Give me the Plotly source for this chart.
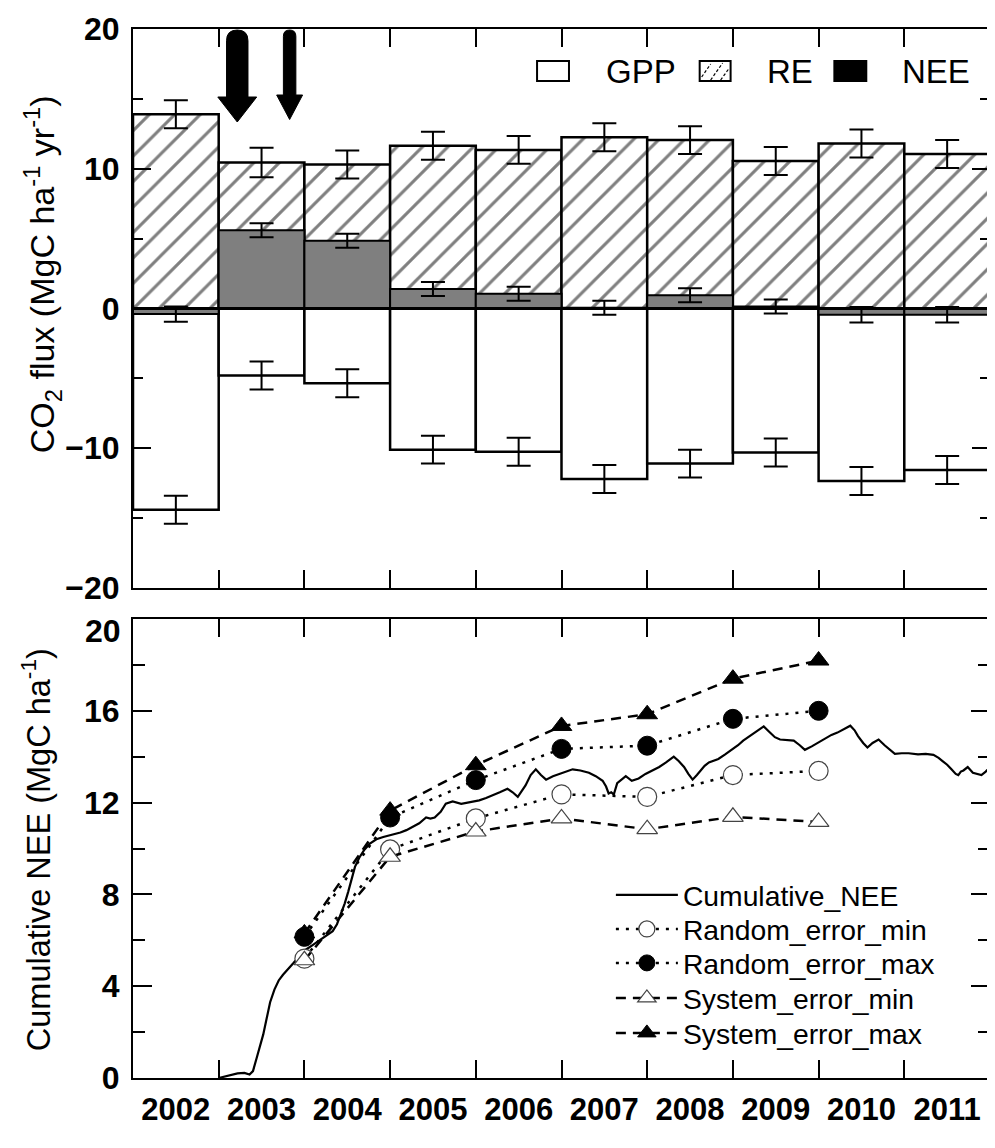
import plotly.graph_objects as go

# ---------------- data ----------------
years = ["2002", "2003", "2004", "2005", "2006", "2007", "2008", "2009", "2010", "2011"]
bar_pos = [0.5, 1.5, 2.5, 3.5, 4.5, 5.5, 6.5, 7.5, 8.5, 9.5]

GPP = [-14.4, -4.8, -5.35, -10.1, -10.25, -12.2, -11.1, -10.3, -12.35, -11.55]
GPP_err = [1.0, 1.0, 1.0, 1.0, 1.0, 1.0, 1.0, 1.0, 1.0, 1.0]
RE = [13.9, 10.45, 10.3, 11.65, 11.35, 12.25, 12.05, 10.55, 11.8, 11.05]
RE_err = [1.0, 1.05, 1.0, 1.0, 1.0, 1.0, 1.0, 1.0, 1.0, 1.0]
NEE = [-0.4, 5.6, 4.85, 1.4, 1.05, 0.05, 0.95, 0.15, -0.45, -0.45]
NEE_err = [0.55, 0.5, 0.5, 0.5, 0.5, 0.5, 0.5, 0.5, 0.55, 0.55]

cum_x = [1.00, 1.10, 1.22, 1.30, 1.36, 1.40, 1.44, 1.48, 1.52, 1.56, 1.60, 1.65, 1.70, 1.75,
         1.80, 1.87, 1.95, 2.02, 2.10, 2.18, 2.26, 2.33, 2.38, 2.42, 2.47, 2.51, 2.55, 2.59,
         2.64, 2.70, 2.76, 2.84, 2.92, 3.03, 3.12, 3.19, 3.27, 3.34, 3.42, 3.47, 3.52, 3.59,
         3.65, 3.73, 3.83, 3.92, 4.04, 4.12, 4.19, 4.28, 4.37, 4.43, 4.49, 4.54, 4.58, 4.64,
         4.70, 4.76, 4.82, 4.90, 4.97, 5.05, 5.13, 5.22, 5.32, 5.40, 5.48, 5.52, 5.55, 5.58,
         5.61, 5.65, 5.70, 5.75, 5.82, 5.90, 5.98, 6.06, 6.14, 6.22, 6.31, 6.37, 6.43, 6.48,
         6.53, 6.58, 6.62, 6.67, 6.72, 6.83, 6.91, 6.99, 7.06, 7.12, 7.18, 7.24, 7.30, 7.36,
         7.42, 7.49, 7.55, 7.61, 7.71, 7.78, 7.84, 7.92, 8.00, 8.08, 8.15, 8.22, 8.30, 8.37,
         8.42, 8.46, 8.52, 8.57, 8.63, 8.70, 8.77, 8.83, 8.89, 8.97, 9.05, 9.16, 9.25, 9.34,
         9.40, 9.45, 9.50, 9.55, 9.60, 9.63, 9.66, 9.69, 9.74, 9.80, 9.85, 9.90, 9.95, 10.0]
cum_nee = [0.0, 0.08, 0.2, 0.22, 0.15, 0.3, 0.8, 1.3, 1.9, 2.6, 3.3, 3.85, 4.25, 4.5,
           4.7, 5.0, 5.35, 5.6, 5.8, 6.0, 6.2, 6.4, 6.7, 7.1, 7.6, 8.1, 8.7, 9.2,
           9.6, 9.95, 10.2, 10.4, 10.5, 10.6, 10.7, 10.8, 10.95, 11.1, 11.35, 11.3, 11.35, 11.6,
           11.95, 12.05, 11.95, 12.0, 12.1, 12.2, 12.3, 12.45, 12.6, 12.45, 12.25, 12.5, 12.75, 13.2,
           13.45, 13.2, 13.0, 13.15, 13.25, 13.35, 13.45, 13.4, 13.3, 13.15, 12.95, 12.7, 12.4, 12.45,
           12.35, 12.85, 13.0, 13.15, 12.95, 13.05, 13.25, 13.4, 13.55, 13.75, 14.0, 13.8, 13.55, 13.25,
           13.0, 13.2, 13.4, 13.6, 13.75, 13.9, 14.1, 14.3, 14.5, 14.7, 14.85, 15.0, 15.15, 15.32,
           15.1, 14.85, 14.75, 14.72, 14.7, 14.5, 14.3, 14.45, 14.62, 14.8, 14.95, 15.05, 15.2, 15.35,
           15.15, 14.9, 14.6, 14.4, 14.6, 14.75, 14.5, 14.3, 14.12, 14.15, 14.15, 14.1, 14.12, 14.08,
           13.95, 13.8, 13.65, 13.45, 13.25, 13.2, 13.35, 13.4, 13.55, 13.3, 13.25, 13.2, 13.35, 13.55]

err_x = [2, 3, 4, 5, 6, 7, 8]
rand_min = [5.2, 9.96, 11.31, 12.36, 12.25, 13.2, 13.38]
rand_max = [6.15, 11.35, 12.98, 14.34, 14.48, 15.65, 16.0]
sys_min = [5.13, 9.64, 10.74, 11.31, 10.84, 11.38, 11.16]
sys_max = [6.3, 11.65, 13.63, 15.34, 15.85, 17.40, 18.19]

top_yticks = [-20, -10, 0, 10, 20]
bot_yticks = [0, 4, 8, 12, 16, 20]
bot_ytext = ["0", "4", "8", "12", "16", ""]   # "20" drawn separately, just under the frame

# ---------------- layout geometry (page pixels; page body has an 8px margin) ----------------
OFF = 8
PL, PR, PT, PB = 133, 992, 29, 1078          # plot area on the page
FW, FH = 987, 1140                           # figure size
ML, MT = PL - OFF, PT - OFF
MR, MB = FW - (PR - OFF), FH - (PB - OFF)
PW, PH = PR - PL, PB - PT
TOP_DOM = [(PB - 588) / PH, 1.0]
BOT_DOM = [0.0, (PB - 619) / PH]

FONT = "Arial, 'Liberation Sans', sans-serif"


def px(xp):
    return (xp - PL) / PW


def py(yp):
    return (PB - yp) / PH


fig = go.Figure()

# ---------------- top panel bars ----------------
err_style = dict(type="data", visible=True, color="black", thickness=2, width=12)

fig.add_trace(go.Bar(
    x=bar_pos, y=GPP, width=1.0, name="GPP", showlegend=False,
    marker=dict(color="white", line=dict(color="black", width=2.5)),
    error_y=dict(array=GPP_err, **err_style), xaxis="x", yaxis="y"))
fig.add_trace(go.Bar(
    x=bar_pos, y=RE, width=1.0, name="RE", showlegend=False,
    marker=dict(color="white", line=dict(color="black", width=2.5),
                pattern=dict(shape="/", fgcolor="black", bgcolor="white", size=18, solidity=0.17)),
    error_y=dict(array=RE_err, **err_style), xaxis="x", yaxis="y"))
fig.add_trace(go.Bar(
    x=bar_pos, y=NEE, width=1.0, name="NEE", showlegend=False,
    marker=dict(color="#7f7f7f", line=dict(color="black", width=2)),
    error_y=dict(array=NEE_err, **err_style), xaxis="x", yaxis="y"))

# ---------------- bottom panel lines ----------------
fig.add_trace(go.Scatter(
    x=cum_x, y=cum_nee, mode="lines", name="Cumulative_NEE", legend="legend",
    line=dict(color="black", width=2.2), xaxis="x2", yaxis="y2"))
fig.add_trace(go.Scatter(
    x=err_x, y=rand_min, mode="lines+markers", name="Random_error_min", legend="legend2",
    line=dict(color="black", width=2.5, dash="3px,7px"),
    marker=dict(symbol="circle", size=19, color="white", line=dict(color="#444", width=1.2)),
    xaxis="x2", yaxis="y2"))
fig.add_trace(go.Scatter(
    x=err_x, y=rand_max, mode="lines+markers", name="Random_error_max", legend="legend3",
    line=dict(color="black", width=2.5, dash="3px,7px"),
    marker=dict(symbol="circle", size=19, color="black", line=dict(color="black", width=1)),
    xaxis="x2", yaxis="y2"))
fig.add_trace(go.Scatter(
    x=err_x, y=sys_min, mode="lines+markers", name="System_error_min", legend="legend4",
    line=dict(color="black", width=2.5, dash="10px,7px"),
    marker=dict(symbol="triangle-up", size=18, color="white", line=dict(color="#444", width=1.2)),
    xaxis="x2", yaxis="y2"))
fig.add_trace(go.Scatter(
    x=err_x, y=sys_max, mode="lines+markers", name="System_error_max", legend="legend5",
    line=dict(color="black", width=2.5, dash="10px,7px"),
    marker=dict(symbol="triangle-up", size=18, color="black", line=dict(color="black", width=1)),
    xaxis="x2", yaxis="y2"))

# ---------------- axes ----------------
xtickfont = dict(family=FONT, size=31, color="black", weight="bold")
ytickfont = dict(family=FONT, size=32, color="black", weight="bold")
bound_ticks = list(range(0, 11))

common_x = dict(range=[0, 10], showline=True, linecolor="black", linewidth=2, mirror="allticks",
                showgrid=False, zeroline=False, ticks="inside", ticklen=0,
                tickvals=bar_pos, ticktext=years, tickfont=xtickfont,
                minor=dict(tickmode="array", tickvals=bound_ticks, ticks="inside",
                           ticklen=18, tickwidth=2, tickcolor="black", showgrid=False))

legend_rows = [895, 929, 963, 998, 1033]
legend_common = dict(xanchor="left", yanchor="middle", bgcolor="rgba(0,0,0,0)",
                     font=dict(family=FONT, size=28.3, color="black"), itemwidth=62,
                     borderwidth=0)
LEG_X = px(612)

fig.update_layout(
    xaxis=dict(domain=[0, 1], anchor="y", showticklabels=False, **common_x),
    xaxis2=dict(domain=[0, 1], anchor="y2", showticklabels=True, ticklabelstandoff=3, **common_x),
    yaxis=dict(domain=TOP_DOM, anchor="x", range=[-20, 20], showline=True, linecolor="black",
               linewidth=2, mirror="allticks", showgrid=False, zeroline=False,
               tickvals=top_yticks, ticks="inside", ticklen=18, tickwidth=2,
               tickcolor="black", tickfont=ytickfont, ticklabelstandoff=5,
               minor=dict(tickmode="array", tickvals=[-15, -5, 5, 15], ticks="inside",
                          ticklen=10, tickwidth=2, tickcolor="black", showgrid=False)),
    yaxis2=dict(domain=BOT_DOM, anchor="x2", range=[0, 20], showline=True, linecolor="black",
                linewidth=2, mirror="allticks", showgrid=False, zeroline=False,
                tickvals=bot_yticks, ticktext=bot_ytext, ticks="inside", ticklen=19, tickwidth=2,
                tickcolor="black", tickfont=ytickfont, ticklabelstandoff=5,
                minor=dict(tickmode="array", tickvals=[2, 6, 10, 14, 18], ticks="inside",
                           ticklen=12, tickwidth=2, tickcolor="black", showgrid=False)),
    barmode="overlay",
    width=FW, height=FH, autosize=False,
    margin=dict(l=ML, r=MR, t=MT, b=MB, pad=0),
    paper_bgcolor="white", plot_bgcolor="white",
    font=dict(family=FONT, color="black"),
    legend=dict(x=LEG_X, y=py(legend_rows[0]), **legend_common),
    legend2=dict(x=LEG_X, y=py(legend_rows[1]), **legend_common),
    legend3=dict(x=LEG_X, y=py(legend_rows[2]), **legend_common),
    legend4=dict(x=LEG_X, y=py(legend_rows[3]), **legend_common),
    legend5=dict(x=LEG_X, y=py(legend_rows[4]), **legend_common),
)

# ---------------- shapes: zero line, arrows, top legend ----------------
shapes = []
shapes.append(dict(type="line", xref="paper", yref="y", x0=0, x1=1, y0=0, y1=0,
                   line=dict(color="black", width=3), layer="above"))


def arrow_path(cx, shaft_w, head_w, top, head_y, tip):
    l, r = px(cx - shaft_w / 2), px(cx + shaft_w / 2)
    hl, hr = px(cx - head_w / 2), px(cx + head_w / 2)
    c = px(cx)
    return (f"M {l},{py(top + shaft_w/2)} Q {l},{py(top)} {c},{py(top)} Q {r},{py(top)} {r},{py(top + shaft_w/2)} "
            f"L {r},{py(head_y)} L {hr},{py(head_y)} L {c},{py(tip)} L {hl},{py(head_y)} "
            f"L {l},{py(head_y)} Z")


shapes.append(dict(type="path", xref="paper", yref="paper",
                   path=arrow_path(237.5, 21.5, 39, 30, 97, 122),
                   fillcolor="black", line=dict(color="black", width=1), layer="above"))
shapes.append(dict(type="path", xref="paper", yref="paper",
                   path=arrow_path(290, 12.5, 26, 30, 95, 119.5),
                   fillcolor="black", line=dict(color="black", width=1), layer="above"))

# legend boxes (top panel)
shapes.append(dict(type="rect", xref="paper", yref="paper", x0=px(538), x1=px(570), y0=py(81), y1=py(61),
                   fillcolor="white", line=dict(color="black", width=2), layer="above"))
shapes.append(dict(type="rect", xref="paper", yref="paper", x0=px(701), x1=px(732), y0=py(81), y1=py(61),
                   fillcolor="white", line=dict(color="black", width=2), layer="above"))
for (a, b) in [((703, 77), (712, 64)), ((712, 80), (724, 63)), ((722, 80), (730, 69))]:
    shapes.append(dict(type="line", xref="paper", yref="paper", x0=px(a[0]), y0=py(a[1]),
                       x1=px(b[0]), y1=py(b[1]), line=dict(color="black", width=1.2, dash="3px,2px"),
                       layer="above"))
shapes.append(dict(type="rect", xref="paper", yref="paper", x0=px(836), x1=px(868), y0=py(81), y1=py(61),
                   fillcolor="black", line=dict(color="black", width=2), layer="above"))

annotations = []
for txt, xp in [("GPP", 605), ("RE", 766), ("NEE", 902)]:
    annotations.append(dict(text=txt, xref="paper", yref="paper", x=px(xp), y=py(71),
                            xanchor="left", yanchor="middle", showarrow=False,
                            font=dict(family=FONT, size=33, color="black")))

# top tick label of the lower panel, sitting just below the frame as in the original
annotations.append(dict(text="20", xref="paper", yref="paper", x=px(123), y=py(631),
                        xanchor="right", yanchor="middle", showarrow=False,
                        font=ytickfont))

annotations.append(dict(text="CO<sub>2</sub> flux (MgC ha<sup>-1</sup> yr<sup>-1</sup>)",
                        xref="paper", yref="paper", x=px(42), y=py(274), textangle=-90,
                        xanchor="center", yanchor="middle", showarrow=False,
                        font=dict(family=FONT, size=34, color="black")))
annotations.append(dict(text="Cumulative NEE (MgC ha<sup>-1</sup>)",
                        xref="paper", yref="paper", x=px(36), y=py(850), textangle=-90,
                        xanchor="center", yanchor="middle", showarrow=False,
                        font=dict(family=FONT, size=32.5, color="black")))

fig.update_layout(shapes=shapes, annotations=annotations)

fig.write_html("out.html")
